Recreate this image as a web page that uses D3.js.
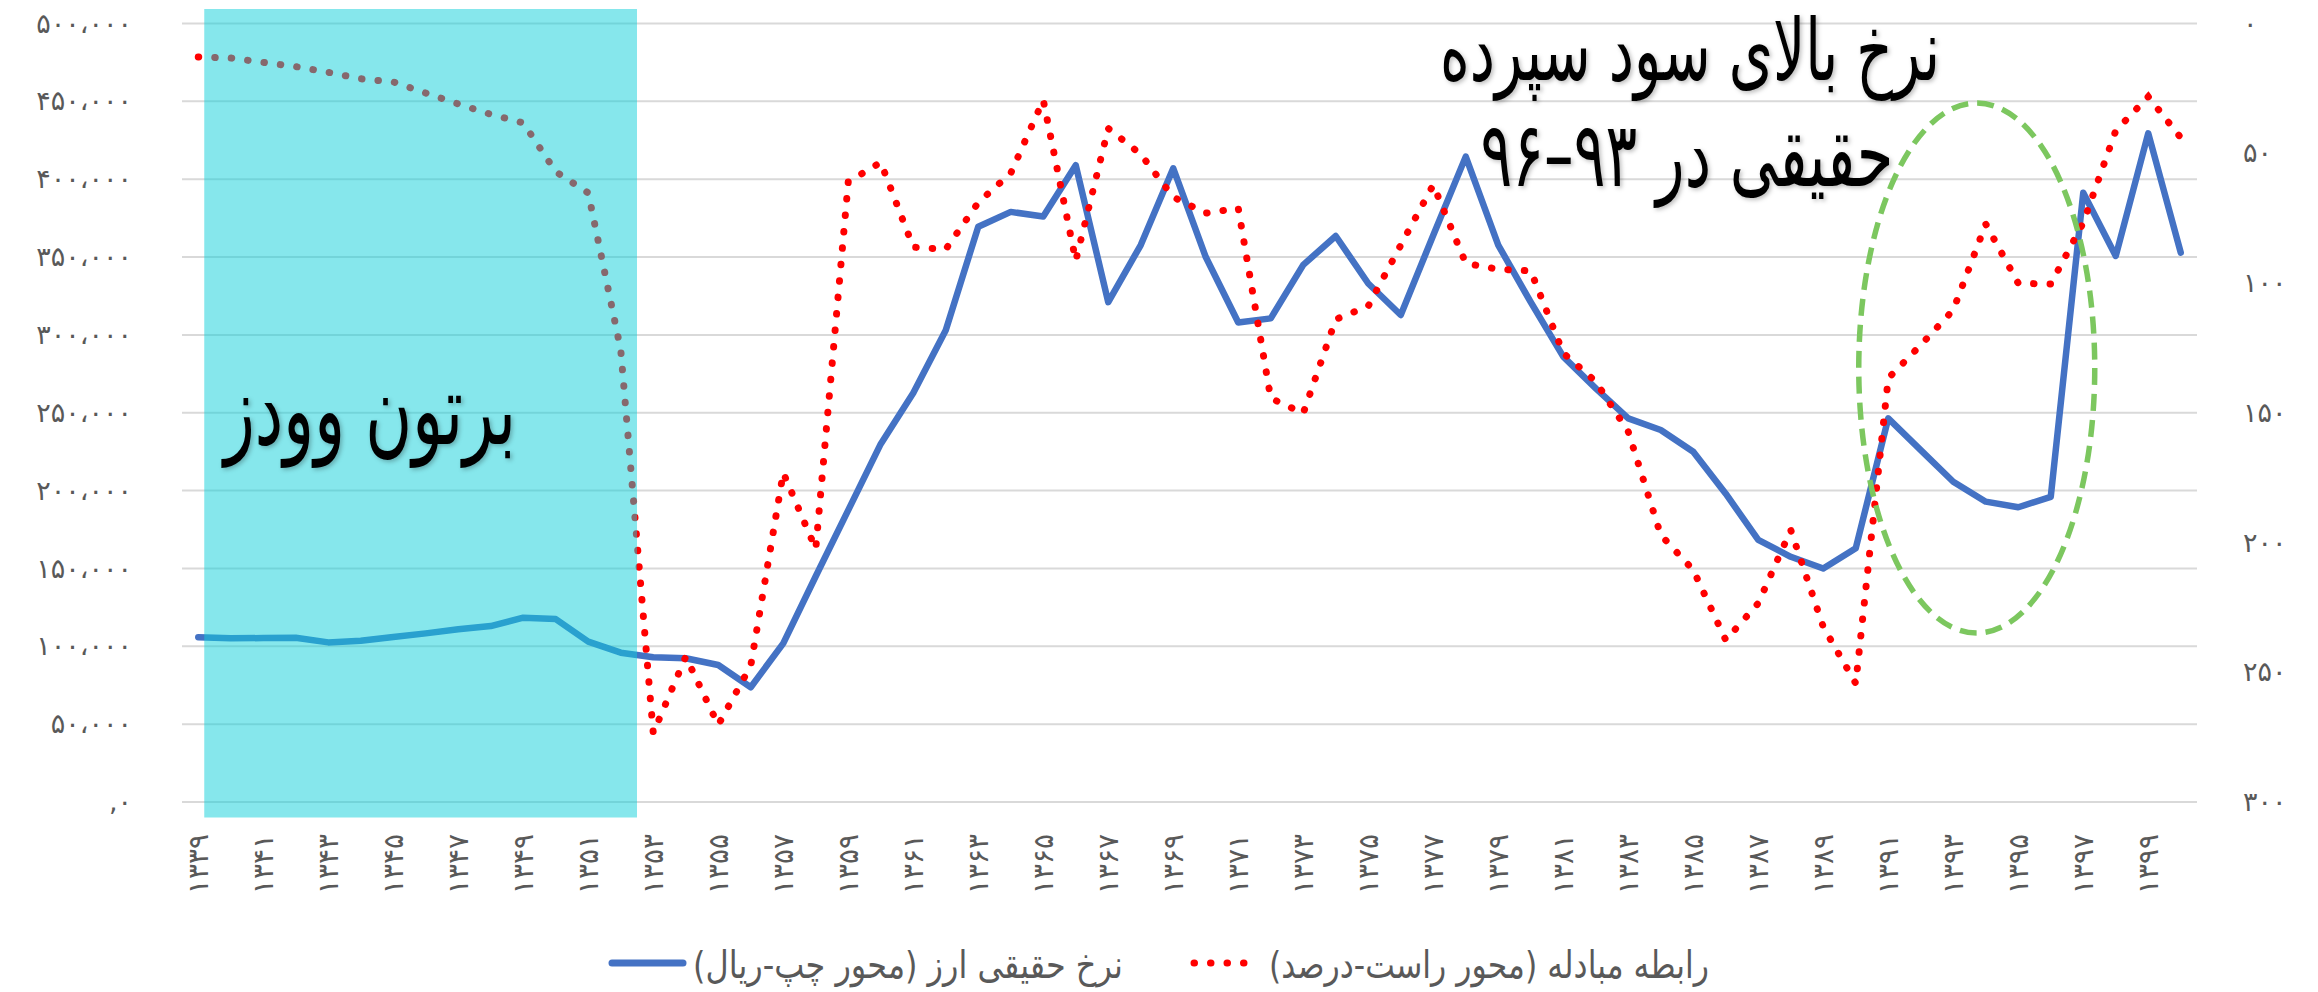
<!DOCTYPE html>
<html>
<head>
<meta charset="utf-8">
<script src="https://cdnjs.cloudflare.com/ajax/libs/d3/7.8.5/d3.min.js"></script>
<style>
  body { margin: 0; background: #fff; }
  svg { display: block; }
  text { font-family: "DejaVu Sans", sans-serif; }
</style>
</head>
<body>
<svg id="chart" width="2318" height="992"></svg>
<script>

// سال‌ها (محور افقی)
const years = [1339,1340,1341,1342,1343,1344,1345,1346,1347,1348,
               1349,1350,1351,1352,1353,1354,1355,1356,1357,1358,
               1359,1360,1361,1362,1363,1364,1365,1366,1367,1368,
               1369,1370,1371,1372,1373,1374,1375,1376,1377,1378,
               1379,1380,1381,1382,1383,1384,1385,1386,1387,1388,
               1389,1390,1391,1392,1393,1394,1395,1396,1397,1398,
               1399,1400];

// نرخ حقیقی ارز (ریال) - محور چپ
const realRate = [105800,105100,105300,105500,102500,103600,106000,108300,111000,113000,
                  118400,117500,103000,95900,93000,92300,88000,73700,101900,145000,
                  187500,230000,262700,303000,369500,379000,376000,409000,321000,357700,
                  407000,350000,308000,310600,345000,363500,333000,312800,364000,414500,
                  357700,321000,286000,265700,246400,238900,225000,198000,168300,157500,
                  150000,163000,246400,226000,205700,192900,189300,196000,391300,350700,
                  429500,352800];

// رابطه مبادله (درصد) - محور راست
const tradeTerms = [12.9,13.3,15.0,16.6,18.8,21.3,22.5,26.8,31.0,35.0,
                    38.3,57.1,65.3,125.8,273.4,244,270.3,247.5,173.1,202.5,
                    61,53.5,86.2,87.0,69.0,57.7,29.5,91.4,40.4,50.4,
                    66.9,73.1,71.2,144.4,150.2,114.0,108.9,85.4,62.2,92.4,
                    94.7,95.3,127,138.0,157.3,197.1,210.6,237.6,223.4,195.2,
                    232.5,254.3,136.7,123.9,110.4,77.3,100.1,100.4,76.8,41.3,
                    28.2,44];

const leftTicks = [0,50000,100000,150000,200000,250000,300000,350000,400000,450000,500000];
const rightTicks = [0,50,100,150,200,250,300];
const yearTicks = [1339,1341,1343,1345,1347,1349,1351,1353,1355,1357,1359,1361,1363,1365,1367,
                   1369,1371,1373,1375,1377,1379,1381,1383,1385,1387,1389,1391,1393,1395,1397,1399];
const seriesNames = ["نرخ حقیقی ارز (محور چپ-ریال)", "رابطه مبادله (محور راست-درصد)"];

const faDigits = "۰۱۲۳۴۵۶۷۸۹";
function fa(s) { return String(s).replace(/[0-9]/g, c => faDigits[+c]); }
function faNum(n) {
  if (n === 0) return ",۰";
  return fa(d3.format(",")(n)).replace(/,/g, "،");
}

var svg = d3.select("#chart"),
    margin = { top: 23.5, right: 121, bottom: 190, left: 182 },
    iwidth = +svg.attr("width") - margin.left - margin.right,
    iheight = +svg.attr("height") - margin.top - margin.bottom,
    g = svg.append("g").attr("transform", "translate(" + margin.left + "," + margin.top + ")");

var defs = svg.append("defs");
defs.append("filter").attr("id", "shadow")
    .attr("x", "-10%").attr("y", "-10%").attr("width", "120%").attr("height", "130%")
  .append("feDropShadow")
    .attr("dx", 2).attr("dy", 2).attr("stdDeviation", 2)
    .attr("flood-color", "#000").attr("flood-opacity", 0.25);

var x = d3.scaleBand().domain(years).range([0, iwidth]);
var xc = d => x(d) + x.bandwidth() / 2;
var yL = d3.scaleLinear().domain([0, 500000]).range([iheight, 0]);
var yR = d3.scaleLinear().domain([0, 300]).range([0, iheight]);

// gridlines
g.append("g")
  .selectAll("line")
  .data(leftTicks)
  .enter().append("line")
    .attr("x1", 0).attr("x2", iwidth)
    .attr("y1", d => yL(d)).attr("y2", d => yL(d))
    .attr("stroke", "#d9d9d9").attr("stroke-width", 2);

// left axis
var axL = g.append("g")
  .call(d3.axisLeft(yL).tickValues(leftTicks).tickSize(0).tickPadding(50).tickFormat(faNum));
axL.select(".domain").remove();
axL.selectAll("text").attr("fill", "#595959").style("font-size", "27px")
   .style("font-family", "DejaVu Sans");

// right axis
var axR = g.append("g")
  .attr("transform", "translate(" + iwidth + ",0)")
  .call(d3.axisRight(yR).tickValues(rightTicks).tickSize(0).tickPadding(46).tickFormat(fa));
axR.select(".domain").remove();
axR.selectAll("text").attr("fill", "#595959").style("font-size", "27px")
   .style("font-family", "DejaVu Sans");

// bottom axis
var axB = g.append("g")
  .attr("transform", "translate(0," + iheight + ")")
  .call(d3.axisBottom(x).tickValues(yearTicks).tickSize(0).tickFormat(fa));
axB.select(".domain").remove();
axB.selectAll("text")
  .attr("fill", "#595959").style("font-size", "28px").style("font-family", "DejaVu Sans")
  .attr("text-anchor", "end")
  .attr("y", 0).attr("dy", "0.35em")
  .attr("transform", "translate(0,32) rotate(-90)");

// series
var blueLine = d3.line().x((d, i) => xc(years[i])).y(d => yL(d));
var redLine = d3.line().x((d, i) => xc(years[i])).y(d => yR(d));

g.append("path")
  .datum(realRate)
  .attr("d", blueLine)
  .attr("fill", "none")
  .attr("stroke", "#4472c4")
  .attr("stroke-width", 6.5)
  .attr("stroke-linejoin", "round")
  .attr("stroke-linecap", "round");

g.append("path")
  .datum(tradeTerms)
  .attr("d", redLine)
  .attr("fill", "none")
  .attr("stroke", "#ff0000")
  .attr("stroke-width", 7)
  .attr("stroke-dasharray", "0.5 16")
  .attr("stroke-linecap", "round");

// Bretton Woods band
var bandX0 = xc(1339) + 6, bandX1 = xc(1352) + x.bandwidth() / 2;
g.append("rect")
  .attr("x", bandX0).attr("y", -14.5)
  .attr("width", bandX1 - bandX0).attr("height", iheight + 30)
  .attr("fill", "rgb(13,208,217)").attr("fill-opacity", 0.5);

// green ellipse around 1393-1396
g.append("ellipse")
  .attr("cx", xc(1394) - 9).attr("cy", 344.5)
  .attr("rx", 118).attr("ry", 265)
  .attr("fill", "none")
  .attr("stroke", "#7cc75f")
  .attr("stroke-width", 5.5)
  .attr("stroke-dasharray", "17 9");

// text centred on cx, squeezed horizontally to width w
function centeredText(sel, txt, cx, y, fs, w) {
  var t = sel.append("text")
    .attr("x", cx).attr("y", y)
    .attr("text-anchor", "middle").attr("direction", "rtl")
    .style("font-size", fs + "px")
    .text(txt);
  var len = t.node().getComputedTextLength();
  t.attr("transform", "translate(" + cx + "," + y + ") scale(" + (w / len) + ",1) translate(" + (-cx) + "," + (-y) + ")");
  return t;
}

var notes = svg.append("g").attr("fill", "#000").attr("filter", "url(#shadow)");
centeredText(notes, "برتون وودز", 370, 444, 99, 292);
centeredText(notes, "نرخ بالای سود سپرده", 1690, 80, 86, 500);
centeredText(notes, "حقیقی در ۹۳–۹۶", 1687, 186, 90, 413);

// legend
var legend = svg.append("g");
legend.append("line")
  .attr("x1", 612).attr("x2", 683).attr("y1", 963).attr("y2", 963)
  .attr("stroke", "#4472c4").attr("stroke-width", 7).attr("stroke-linecap", "round");
legend.append("line")
  .attr("x1", 1194).attr("x2", 1260).attr("y1", 963).attr("y2", 963)
  .attr("stroke", "#ff0000").attr("stroke-width", 7)
  .attr("stroke-dasharray", "0.5 16").attr("stroke-linecap", "round");

var legText = legend.append("g").attr("fill", "#595959");
centeredText(legText, seriesNames[0], 908, 978, 38, 430);
centeredText(legText, seriesNames[1], 1489, 978, 38, 440);

</script>
</body>
</html>
